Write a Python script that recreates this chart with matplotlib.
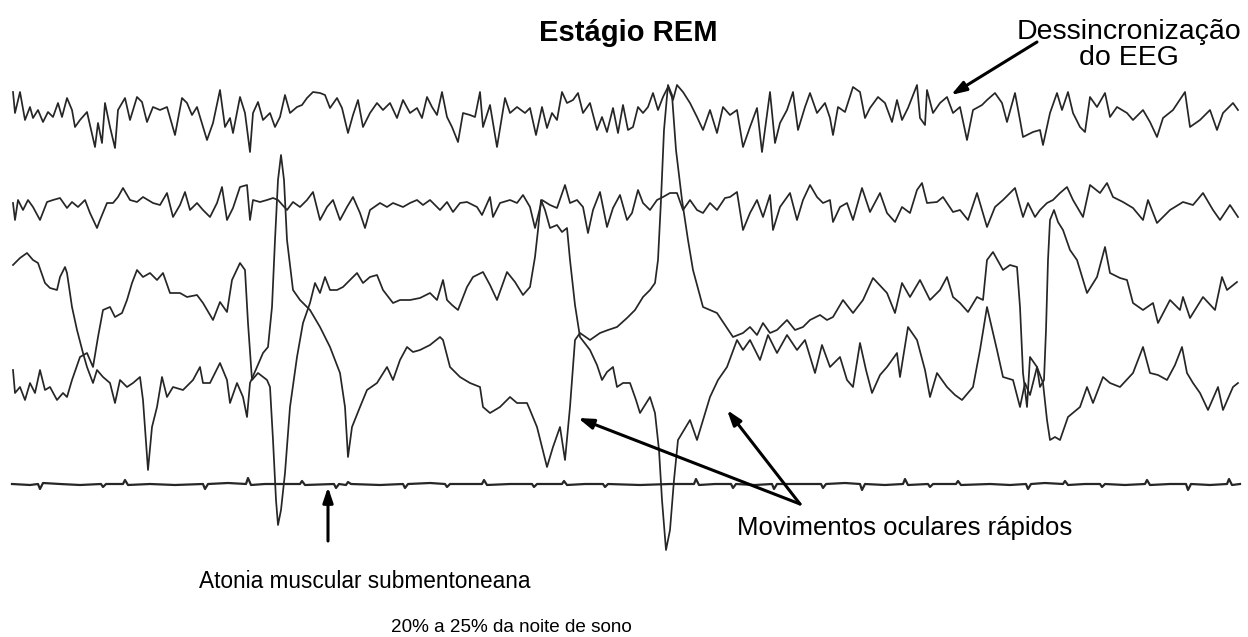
import matplotlib
matplotlib.use('Agg')
import matplotlib.pyplot as plt

plt.rcParams['font.family'] = ['Liberation Sans', 'DejaVu Sans']

# traces in screen units (x to the right, y downwards)
eeg1 = [(13, 92), (15, 113), (20, 92), (25, 120), (30, 107), (33, 118), (38, 110), (43, 122), (48, 112),
        (53, 117), (58, 103), (62, 117), (67, 98), (72, 110), (75, 127), (80, 120), (87, 112), (95, 147),
        (98, 123), (102, 143), (105, 103), (110, 127), (115, 148), (118, 110), (125, 98), (130, 120),
        (137, 97), (142, 102), (147, 122), (153, 107), (160, 110), (167, 107), (175, 135), (182, 98),
        (187, 103), (192, 115), (197, 107), (207, 140), (213, 123), (220, 90), (225, 127), (230, 118),
        (233, 133), (240, 97), (245, 113), (250, 152), (253, 113), (258, 102), (263, 120), (270, 113),
        (275, 127), (280, 117), (285, 95), (290, 113), (297, 107), (302, 105), (307, 98), (313, 92),
        (320, 93), (325, 95), (330, 108), (337, 98), (342, 108), (348, 133), (353, 115), (358, 100),
        (363, 127), (370, 113), (377, 103), (383, 110), (390, 103), (397, 118), (403, 100), (410, 113),
        (417, 108), (422, 118), (427, 97), (432, 107), (437, 115), (442, 92), (447, 117), (452, 127),
        (458, 142), (463, 113), (470, 115), (475, 117), (480, 92), (483, 127), (490, 105), (497, 147),
        (505, 98), (510, 113), (517, 107), (525, 113), (530, 108), (536, 135), (542, 107), (547, 128),
        (552, 113), (557, 120), (562, 92), (567, 103), (573, 100), (578, 93), (583, 113), (590, 103),
        (597, 130), (602, 117), (607, 132), (613, 108), (618, 133), (623, 105), (628, 130), (633, 127),
        (638, 107), (643, 113), (648, 107), (653, 93), (658, 110), (663, 97), (668, 87), (673, 100),
        (677, 85), (683, 92), (690, 103), (697, 117), (703, 130), (710, 110), (717, 133), (723, 107),
        (730, 115), (737, 110), (743, 147), (750, 127), (757, 108), (762, 152), (770, 92), (775, 143),
        (780, 123), (787, 110), (793, 92), (798, 130), (805, 107), (810, 93), (817, 113), (825, 103),
        (830, 118), (833, 135), (838, 107), (845, 112), (853, 87), (860, 92), (865, 118), (870, 108),
        (878, 97), (885, 103), (892, 122), (897, 100), (902, 120), (908, 108), (917, 85), (920, 118),
        (925, 125), (927, 90), (933, 113), (940, 103), (947, 97), (953, 113), (960, 107), (967, 140),
        (973, 110), (982, 105), (987, 100), (995, 93), (1002, 103), (1007, 122), (1015, 93), (1020, 120),
        (1023, 137), (1033, 132), (1040, 130), (1043, 145), (1050, 113), (1057, 93), (1062, 110),
        (1068, 92), (1073, 113), (1080, 127), (1085, 132), (1090, 97), (1097, 107), (1105, 93),
        (1110, 117), (1117, 107), (1127, 113), (1133, 120), (1143, 110), (1150, 122), (1157, 137),
        (1163, 118), (1173, 110), (1185, 92), (1190, 127), (1200, 120), (1210, 110), (1217, 130),
        (1223, 113), (1233, 103), (1238, 110)]

eeg2 = [(13, 203), (15, 220), (18, 200), (23, 210), (28, 200), (33, 207), (40, 220), (47, 202), (53, 200),
        (60, 198), (67, 208), (72, 202), (78, 207), (85, 200), (90, 213), (97, 228), (100, 220), (107, 203),
        (113, 203), (118, 197), (123, 188), (130, 200), (137, 202), (143, 197), (153, 203), (160, 205),
        (167, 193), (173, 217), (180, 205), (185, 192), (190, 210), (197, 203), (203, 210), (210, 217),
        (217, 203), (222, 187), (227, 220), (233, 208), (240, 187), (247, 185), (250, 220), (253, 200),
        (260, 202), (267, 200), (273, 198), (278, 200), (287, 210), (293, 202), (300, 207), (307, 200),
        (313, 192), (320, 220), (327, 207), (333, 200), (340, 220), (347, 207), (353, 197), (360, 213),
        (365, 228), (370, 210), (380, 203), (387, 207), (393, 203), (403, 207), (410, 203), (417, 200),
        (423, 205), (430, 200), (440, 210), (447, 202), (453, 212), (460, 203), (467, 202), (477, 207),
        (482, 215), (490, 197), (493, 217), (500, 203), (510, 200), (517, 203), (523, 195), (530, 207),
        (535, 228), (542, 200), (550, 205), (557, 208), (565, 185), (570, 203), (577, 200), (583, 207),
        (588, 233), (593, 210), (600, 192), (607, 227), (613, 208), (620, 195), (627, 220), (632, 213),
        (638, 190), (643, 203), (650, 210), (657, 200), (663, 197), (670, 193), (677, 193), (683, 210),
        (690, 200), (697, 210), (703, 213), (710, 203), (717, 210), (725, 198), (730, 197), (737, 192),
        (743, 230), (750, 213), (757, 200), (763, 217), (770, 195), (773, 230), (780, 207), (790, 193),
        (797, 220), (803, 200), (810, 185), (817, 197), (823, 203), (830, 200), (833, 222), (840, 207),
        (847, 203), (853, 220), (862, 188), (870, 212), (880, 193), (887, 213), (895, 222), (902, 207),
        (910, 213), (917, 190), (922, 183), (927, 203), (937, 202), (943, 197), (953, 212), (960, 210),
        (968, 220), (977, 193), (987, 227), (995, 207), (1003, 200), (1015, 188), (1023, 217), (1028, 203),
        (1035, 217), (1040, 210), (1047, 203), (1053, 200), (1060, 193), (1067, 187), (1073, 200),
        (1083, 217), (1090, 185), (1100, 193), (1107, 183), (1113, 197), (1123, 202), (1133, 208),
        (1143, 220), (1148, 200), (1157, 223), (1170, 210), (1183, 202), (1193, 205), (1203, 193),
        (1213, 210), (1220, 220), (1230, 205), (1238, 217)]

# eye channels: one swings up where the other swings down
eog_a = [(13, 265), (20, 258), (27, 253), (33, 260), (38, 263), (45, 283), (50, 288), (57, 290), (60, 277),
         (65, 267), (67, 273), (72, 307), (77, 330), (83, 353), (87, 367), (93, 383), (97, 370), (103, 377),
         (110, 383), (115, 403), (120, 380), (127, 387), (133, 383), (140, 377), (143, 400), (147, 457),
         (148, 470), (152, 427), (157, 407), (162, 377), (167, 397), (173, 387), (183, 390), (193, 380),
         (200, 367), (203, 383), (210, 383), (220, 363), (227, 380), (230, 403), (237, 383), (243, 397),
         (247, 417), (250, 383), (257, 367), (263, 353), (268, 347), (272, 307), (275, 240), (278, 180),
         (281, 155), (284, 180), (287, 240), (293, 290), (300, 300), (310, 310), (320, 327), (330, 347),
         (340, 373), (345, 407), (348, 457), (352, 427), (360, 407), (367, 390), (377, 383), (387, 367),
         (393, 380), (400, 360), (407, 347), (413, 352), (420, 350), (430, 345), (440, 337), (443, 340),
         (450, 367), (460, 377), (470, 383), (480, 387), (483, 407), (490, 413), (500, 407), (510, 397),
         (517, 403), (527, 403), (530, 410), (537, 427), (547, 467), (553, 447), (560, 427), (565, 460),
         (570, 407), (575, 340), (580, 333), (590, 340), (600, 333), (608, 330), (617, 327), (627, 318),
         (635, 310), (643, 297), (650, 290), (655, 283), (658, 260), (661, 200), (664, 130), (668, 85),
         (672, 95), (676, 150), (682, 200), (688, 240), (693, 270), (703, 307), (710, 310), (717, 313),
         (725, 325), (733, 337), (743, 333), (750, 327), (757, 335), (763, 323), (770, 333), (777, 330),
         (787, 320), (795, 330), (803, 327), (810, 320), (820, 315), (827, 320), (833, 317), (843, 300),
         (853, 313), (863, 300), (873, 278), (887, 293), (895, 313), (902, 283), (910, 297), (920, 280),
         (930, 300), (940, 290), (947, 277), (953, 297), (960, 303), (968, 312), (977, 297), (983, 300),
         (987, 260), (993, 252), (1003, 270), (1010, 265), (1017, 267), (1020, 307), (1023, 373),
         (1027, 407), (1030, 357), (1037, 367), (1040, 387), (1044, 380), (1046, 330), (1048, 260),
         (1050, 220), (1054, 210), (1058, 222), (1063, 230), (1070, 250), (1077, 260), (1087, 293),
         (1097, 277), (1105, 247), (1110, 273), (1120, 278), (1127, 280), (1133, 303), (1143, 310),
         (1153, 303), (1158, 323), (1170, 300), (1180, 310), (1183, 297), (1190, 318), (1203, 297),
         (1215, 310), (1222, 277), (1227, 290), (1237, 282)]

eog_b = [(13, 370), (15, 393), (20, 387), (25, 400), (30, 383), (35, 393), (40, 370), (45, 390), (50, 387),
         (57, 400), (63, 393), (67, 397), (72, 380), (80, 357), (87, 353), (93, 367), (98, 337), (103, 310),
         (110, 307), (115, 317), (122, 313), (127, 300), (132, 283), (137, 270), (143, 277), (150, 273),
         (157, 280), (163, 273), (170, 293), (180, 293), (187, 297), (197, 295), (203, 303), (213, 320),
         (220, 302), (227, 312), (232, 280), (240, 263), (245, 270), (248, 323), (252, 380), (258, 373),
         (267, 380), (270, 387), (273, 440), (276, 500), (278, 525), (281, 510), (285, 473), (290, 407),
         (297, 357), (303, 323), (310, 303), (315, 283), (320, 293), (325, 277), (330, 290), (337, 290),
         (343, 287), (350, 280), (357, 273), (363, 283), (370, 277), (377, 275), (383, 290), (393, 303),
         (400, 300), (410, 300), (420, 298), (430, 293), (437, 300), (443, 280), (447, 300), (452, 305),
         (458, 310), (467, 287), (473, 277), (483, 272), (490, 285), (497, 300), (507, 272), (515, 282),
         (523, 295), (530, 287), (535, 257), (538, 230), (541, 200), (545, 210), (550, 228), (557, 225),
         (562, 232), (567, 228), (570, 260), (575, 305), (580, 337), (590, 350), (597, 365), (602, 380),
         (607, 372), (613, 367), (617, 387), (623, 383), (630, 383), (636, 400), (640, 413), (645, 405),
         (650, 397), (655, 413), (659, 450), (662, 500), (666, 550), (670, 530), (674, 480), (678, 440),
         (684, 430), (690, 420), (697, 440), (703, 420), (710, 397), (718, 380), (727, 367), (737, 340),
         (743, 350), (750, 340), (760, 360), (768, 335), (777, 353), (787, 335), (797, 350), (805, 340),
         (815, 373), (822, 345), (830, 367), (840, 357), (847, 380), (853, 387), (860, 343), (866, 370),
         (872, 393), (880, 375), (887, 367), (897, 353), (900, 377), (908, 327), (917, 340), (925, 370),
         (930, 397), (937, 373), (947, 387), (955, 395), (962, 400), (973, 387), (980, 350), (987, 307),
         (997, 350), (1003, 377), (1013, 380), (1020, 407), (1025, 383), (1030, 395), (1037, 367),
         (1043, 383), (1047, 420), (1050, 440), (1055, 437), (1060, 440), (1068, 417), (1080, 407),
         (1087, 387), (1093, 403), (1103, 377), (1110, 383), (1120, 387), (1133, 373), (1143, 347),
         (1150, 373), (1158, 375), (1167, 380), (1175, 365), (1182, 347), (1187, 373), (1193, 383),
         (1200, 393), (1208, 410), (1218, 387), (1223, 410), (1233, 387), (1238, 383)]

# chin EMG: flat line with small twitches
emg = [(12, 484), (30, 485), (38, 484), (40, 489), (43, 483), (60, 484), (80, 485), (101, 484), (103, 487),
       (106, 484), (123, 484), (125, 480), (128, 485), (150, 484), (175, 485), (203, 484), (205, 489),
       (208, 484), (228, 483), (246, 484), (248, 478), (251, 485), (265, 484), (300, 484), (302, 481),
       (305, 485), (334, 484), (336, 488), (339, 484), (346, 485), (348, 482), (351, 484), (380, 485),
       (403, 484), (405, 488), (408, 484), (430, 483), (445, 484), (447, 487), (450, 484), (482, 484),
       (484, 480), (487, 485), (510, 484), (532, 484), (534, 487), (537, 484), (562, 484), (564, 481),
       (567, 485), (585, 484), (603, 484), (605, 487), (608, 484), (640, 485), (670, 484), (694, 484),
       (696, 479), (699, 485), (715, 484), (731, 484), (733, 488), (736, 484), (755, 485), (772, 484),
       (774, 489), (777, 484), (800, 484), (821, 484), (823, 488), (826, 484), (845, 483), (860, 484),
       (862, 490), (865, 484), (885, 485), (903, 484), (905, 479), (908, 485), (928, 484), (930, 487),
       (933, 484), (956, 484), (958, 481), (961, 485), (990, 484), (1010, 485), (1026, 484), (1028, 489),
       (1031, 484), (1045, 483), (1063, 484), (1065, 481), (1068, 485), (1085, 484), (1100, 484),
       (1102, 487), (1105, 484), (1125, 485), (1145, 484), (1147, 480), (1150, 485), (1170, 484),
       (1186, 484), (1188, 490), (1191, 484), (1210, 485), (1227, 484), (1229, 479), (1232, 485),
       (1240, 484)]

fig = plt.figure(figsize=(12.48, 6.37), dpi=100)
ax = fig.add_axes([0, 0, 1, 1])
ax.set_xlim(0, 1248)
ax.set_ylim(637, 0)
ax.axis('off')

for trace in [eeg1, eeg2, eog_a, eog_b]:
    ax.plot([p[0] for p in trace], [p[1] for p in trace], color='#262626', lw=1.25,
            solid_joinstyle='round')
ax.plot([p[0] for p in emg], [p[1] for p in emg], color='#262626', lw=1.6)

ax.text(628, 33, 'Estágio REM', ha='center', va='center', fontsize=21, fontweight='bold')
ax.text(1129, 45, 'Dessincronização\ndo EEG', ha='center', va='center', fontsize=20.5,
        linespacing=1.0)
ax.text(737, 528, 'Movimentos oculares rápidos', ha='left', va='center', fontsize=18.5)
ax.text(365, 582, 'Atonia muscular submentoneana', ha='center', va='center', fontsize=16.3)
ax.text(511, 627, '20% a 25% da noite de sono', ha='center', va='center', fontsize=13.6)

arrow = dict(arrowstyle='-|>,head_length=0.9,head_width=0.3', color='black', lw=2.2,
             shrinkA=0, shrinkB=0)
ax.annotate('', xy=(951, 95), xytext=(1037, 42), arrowprops=arrow)
ax.annotate('', xy=(328, 487), xytext=(328, 541), arrowprops=arrow)
ax.annotate('', xy=(578, 418), xytext=(800, 504), arrowprops=arrow)
ax.annotate('', xy=(727, 410), xytext=(800, 504), arrowprops=arrow)

fig.savefig('out.png', dpi=100)
